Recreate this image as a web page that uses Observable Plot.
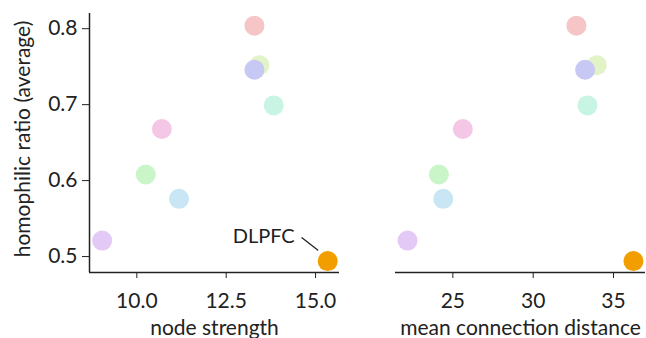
<!DOCTYPE html>
<html>
<head>
<meta charset="utf-8">
<script src="https://cdn.jsdelivr.net/npm/d3@7"></script>
<script src="https://cdn.jsdelivr.net/npm/@observablehq/plot@0.6"></script>
<style>
  html, body { margin: 0; padding: 0; background: #fff; }
  #wrap { display: flex; width: 646px; height: 338px; overflow: hidden; }
  svg { font-family: Lato, "Open Sans", sans-serif; }
</style>
</head>
<body>
<div id="wrap"></div>
<script>
const regions = ["r1", "r2", "r3", "r4", "r5", "r6", "r7", "r8", "DLPFC"];
const nodeStrength = [13.29, 13.43, 13.29, 13.83, 10.70, 10.25, 11.18, 9.03, 15.34];
const meanDistance = [32.69, 33.96, 33.23, 33.38, 25.62, 24.13, 24.40, 22.18, 36.24];
const homophilic = [0.804, 0.752, 0.746, 0.699, 0.668, 0.608, 0.576, 0.521, 0.494];
const colors = ["#f6c6c6", "#e3f3c8", "#c7c9f4", "#c8f5e3", "#f3c7e5", "#c9f5c9", "#c9e6f4", "#e3c9f5", "#f29e00"];
const highlight = "DLPFC";
const xTicksLeft = [10.0, 12.5, 15.0];
const xTicksRight = [25, 30, 35];
const yTicks = [0.5, 0.6, 0.7, 0.8];
const xLabels = ["node strength", "mean connection distance"];
const yLabel = "homophilic ratio (average)";

const data = regions.map((r, i) => ({
  region: r, ns: nodeStrength[i], md: meanDistance[i], h: homophilic[i], c: colors[i]
}));
const yDomain = [0.479, 0.82];
const ink = "#222";
const tickFs = 21;
const labelFs = 21;

function panel({xKey, xDomain, xTicks, xFmt, xLabel, width, marginLeft, marginRight, showY}) {
  const marks = [
    Plot.ruleY([yDomain[0]], {stroke: ink, strokeWidth: 1.5}),
    Plot.axisX({ticks: xTicks, tickFormat: xFmt, tickSize: 6, tickPadding: 15, fontSize: tickFs, label: null, color: ink}),
    Plot.text([xLabel], {text: d => d, frameAnchor: "bottom", textAnchor: "middle", lineAnchor: "bottom", dy: 62, fontSize: labelFs, fill: ink}),
    Plot.dot(data, {x: xKey, y: "h", r: 10, fill: "c", stroke: null})
  ];
  if (showY) {
    marks.unshift(Plot.ruleX([xDomain[0]], {stroke: ink, strokeWidth: 1.5}));
    marks.push(Plot.axisY({ticks: yTicks, tickFormat: d3.format(".1f"), tickSize: 7, tickPadding: 5, fontSize: tickFs, label: null, color: ink}));
    marks.push(Plot.text([yLabel], {text: d => d, frameAnchor: "left", rotate: -90, textAnchor: "middle", lineAnchor: "middle", dx: -66, dy: -4, fontSize: labelFs, fill: ink}));
    const hl = data.filter(d => d.region === highlight);
    marks.push(Plot.text(hl, {x: xKey, y: "h", text: "region", dx: -33, dy: -25, textAnchor: "end", fontSize: 20, fill: ink}));
    marks.push(Plot.vector(hl, {x: xKey, y: "h", dx: -10, dy: -11, length: 20, rotate: 308, anchor: "start", stroke: ink, strokeWidth: 1.3,
      shape: {draw(ctx, l) { ctx.moveTo(0, 0); ctx.lineTo(0, -l); }}}));
  }
  return Plot.plot({
    width, height: 338,
    marginTop: 13, marginBottom: 66, marginLeft, marginRight,
    style: {fontFamily: "Lato, 'Open Sans', sans-serif", color: ink, background: "transparent", overflow: "visible"},
    x: {domain: xDomain},
    y: {domain: yDomain, axis: showY ? undefined : null},
    color: {type: "identity"},
    marks
  });
}

const wrap = document.getElementById("wrap");
wrap.appendChild(panel({xKey: "ns", xDomain: [8.676, 15.67], xTicks: xTicksLeft, xFmt: d3.format(".1f"),
  xLabel: xLabels[0], width: 350, marginLeft: 89, marginRight: 11, showY: true}));
wrap.appendChild(panel({xKey: "md", xDomain: [21.43, 36.99], xTicks: xTicksRight, xFmt: d3.format("d"),
  xLabel: xLabels[1], width: 296, marginLeft: 45, marginRight: 1, showY: false}));
</script>
</body>
</html>
